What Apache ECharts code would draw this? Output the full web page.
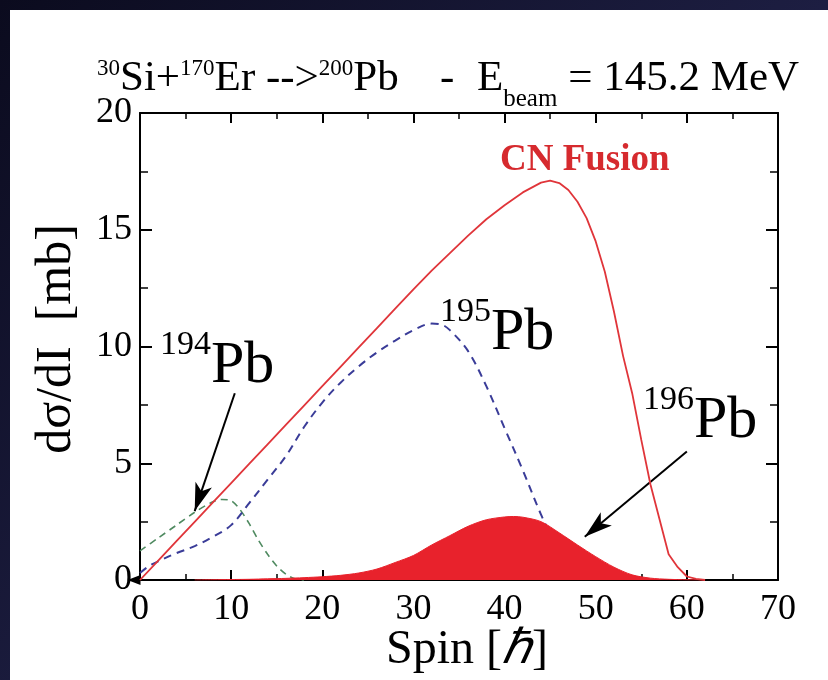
<!DOCTYPE html>
<html><head><meta charset="utf-8">
<script src="https://cdn.jsdelivr.net/npm/echarts@6/dist/echarts.min.js"></script>
<style>
html,body{margin:0;padding:0;width:828px;height:680px;overflow:hidden;background:linear-gradient(135deg,#0b0b1e 0%,#1d1e42 55%,#2a2c5c 100%);}
#c{position:absolute;left:10px;top:10px;width:818px;height:670px;background:#fff;}
</style>
</head><body><div id="c"></div>
<script>
// CN fusion (red solid)
const spinCN = [0,2,4,6,8,10,12,14,16,18,20,22,24,26,28,30,32,34,36,38,40,42,44,45,46,47,48,49,50,51,52,53,54,55,56,57,58,59,60,61,62];
const valCN  = [0,0.83,1.66,2.49,3.32,4.15,4.98,5.81,6.64,7.47,8.30,9.13,9.96,10.79,11.62,12.45,13.25,14.0,14.75,15.45,16.05,16.6,17.02,17.1,17.0,16.7,16.2,15.5,14.5,13.2,11.5,9.6,8.0,6.0,4.1,2.6,1.1,0.55,0.15,0.05,0];
// 195Pb (blue dashed)
const spin195 = [0,1,2,4,6,8,10,12,14,16,18,20,22,24,26,28,30,32,33,34,36,38,40,42,44,45,46,47,48,50];
const val195  = [0.3,0.6,0.8,1.15,1.45,1.85,2.35,3.3,4.3,5.3,6.55,7.6,8.45,9.15,9.75,10.25,10.7,10.98,10.95,10.7,9.8,8.3,6.5,4.7,2.8,2.0,1.3,0.7,0.3,0.05];
// 194Pb (green dashed)
const spin194 = [0,2,4,6,8,9,10,11,12,13,14,15,16,17,18];
const val194  = [1.25,1.8,2.35,2.9,3.35,3.45,3.4,3.0,2.4,1.7,1.1,0.6,0.25,0.05,0];
// 196Pb (red filled)
const spin196 = [6,8,10,12,14,16,18,20,22,24,26,28,30,32,34,36,38,40,41,42,44,46,48,50,52,54,56,58,60,62];
const val196  = [0,0.01,0.02,0.03,0.05,0.07,0.1,0.14,0.2,0.3,0.47,0.75,1.05,1.5,1.9,2.3,2.58,2.7,2.72,2.69,2.5,2.02,1.5,1.0,0.55,0.22,0.08,0.03,0.01,0];
// annotation arrows [from, to] in data coordinates
const arrow194 = [[10.4,8.0],[6.0,2.95]];
const arrow196 = [[60.0,5.5],[48.8,1.85]];
// axis ticks
const xTicks = [0,10,20,30,40,50,60,70];
const yTicks = [0,5,10,15,20];

const pairs = (xs, ys) => xs.map((x, i) => [x, ys[i]]);
const FONT = '"Liberation Serif","Times New Roman",serif';

const chart = echarts.init(document.getElementById('c'), null, {renderer:'canvas'});

const axisCommon = {
  type: 'value',
  axisLine: {show: true, onZero: false, lineStyle: {color: '#000', width: 2}},
  splitLine: {show: false},
  axisTick: {show: true, inside: true, length: 10, lineStyle: {color: '#000', width: 2}},
  minorTick: {show: true, splitNumber: 2, length: 6, lineStyle: {color: '#000', width: 1.5}}
};

const titleRich = {
  m:   {fontFamily: FONT, fontSize: 43, lineHeight: 44, verticalAlign: 'top', fill: '#000'},
  sup: {fontFamily: FONT, fontSize: 23, lineHeight: 20, verticalAlign: 'top', fill: '#000'},
  sub: {fontFamily: FONT, fontSize: 25, lineHeight: 55, verticalAlign: 'bottom', fill: '#000'}
};
const isoRich = {
  s: {fontFamily: FONT, fontSize: 34, lineHeight: 20, verticalAlign: 'top', fill: '#000'},
  m: {fontFamily: FONT, fontSize: 60, lineHeight: 68, verticalAlign: 'bottom', fill: '#000'}
};

const option = {
  animation: false,
  backgroundColor: '#fff',
  grid: {left: 130, right: 50, top: 103, bottom: 100, containLabel: false},
  xAxis: [
    Object.assign({}, axisCommon, {
      min: 0, max: 70, interval: 10, position: 'bottom',
      axisLabel: {show: true, margin: 12, fontFamily: FONT, fontSize: 36, color: '#000',
        formatter: v => xTicks.includes(v) ? String(v) : ''}
    }),
    Object.assign({}, axisCommon, {
      min: 0, max: 70, interval: 10, position: 'top', axisLabel: {show: false}
    })
  ],
  yAxis: [
    Object.assign({}, axisCommon, {
      min: 0, max: 20, interval: 5, position: 'left',
      axisTick: {show: true, inside: true, length: 12, lineStyle: {color: '#000', width: 2}},
      minorTick: {show: true, splitNumber: 2, length: 8, lineStyle: {color: '#000', width: 1.5}},
      axisLabel: {show: true, margin: 8, fontFamily: FONT, fontSize: 36, color: '#000',
        formatter: v => yTicks.includes(v) ? String(v) : ''}
    }),
    Object.assign({}, axisCommon, {
      min: 0, max: 20, interval: 5, position: 'right',
      axisTick: {show: true, inside: true, length: 12, lineStyle: {color: '#000', width: 2}},
      minorTick: {show: true, splitNumber: 2, length: 8, lineStyle: {color: '#000', width: 1.5}},
      axisLabel: {show: false}
    })
  ],
  series: [
    {
      name: '194Pb', type: 'line', data: pairs(spin194, val194), showSymbol: false, smooth: 0.3, z: 3,
      lineStyle: {color: '#4f8a60', width: 1.6, type: [7, 5]},
      markLine: {
        silent: true, symbol: ['none', 'arrow'], symbolSize: [13, 28],
        lineStyle: {color: '#000', width: 2, type: 'solid'}, label: {show: false},
        data: [
          [{coord: arrow194[0]}, {coord: arrow194[1]}],
          [{coord: arrow196[0]}, {coord: arrow196[1]}]
        ]
      },
      markPoint: {
        silent: true, symbol: 'triangle', symbolRotate: 90, symbolSize: [10, 13], symbolOffset: [-6, 0],
        itemStyle: {color: '#000'}, label: {show: false},
        data: [{coord: [0, 0]}]
      }
    },
    {
      name: '195Pb', type: 'line', data: pairs(spin195, val195), showSymbol: false, smooth: 0.35, z: 3,
      lineStyle: {color: '#3a3c98', width: 2, type: [8, 6]}
    },
    {
      name: '196Pb', type: 'line', data: pairs(spin196, val196), showSymbol: false, smooth: 0.3, z: 4,
      lineStyle: {color: '#e8222c', width: 1},
      areaStyle: {color: '#e8222c', opacity: 1}
    },
    {
      name: 'CN Fusion', type: 'line', data: pairs(spinCN, valCN), showSymbol: false, smooth: false, z: 5,
      lineStyle: {color: '#e0353a', width: 1.8}
    }
  ],
  graphic: [
    {type: 'text', x: 87, y: 47, z: 10, style: {
      text: '{sup|30}{m|Si+}{sup|170}{m|Er -->}{sup|200}{m|Pb}', verticalAlign: 'top', rich: titleRich}},
    {type: 'text', x: 430, y: 47, z: 10, style: {
      text: '{m|-}', verticalAlign: 'top', rich: titleRich}},
    {type: 'text', x: 467, y: 47, z: 10, style: {
      text: '{m|E}{sub|beam}{m| = 145.2 MeV}', verticalAlign: 'top', rich: titleRich}},
    {type: 'text', left: 490, top: 132, z: 10, style: {text: 'CN Fusion', fill: '#d62a2e', font: 'bold 37px ' + FONT}},
    {type: 'text', x: 150, y: 318, z: 10, style: {text: '{s|194}{m|Pb}', verticalAlign: 'top', rich: isoRich}},
    {type: 'text', x: 430, y: 285, z: 10, style: {text: '{s|195}{m|Pb}', verticalAlign: 'top', rich: isoRich}},
    {type: 'text', x: 633, y: 373, z: 10, style: {text: '{s|196}{m|Pb}', verticalAlign: 'top', rich: isoRich}},
    {type: 'text', x: 47, y: 329, rotation: Math.PI / 2, z: 10, style: {
      text: 'dσ/dI  [mb]', align: 'center', verticalAlign: 'middle', fill: '#000', font: '50px ' + FONT}},
    {type: 'text', x: 457, y: 640, z: 10, style: {
      text: '{n|Spin [}{h|ℏ}{n|]}', align: 'center', verticalAlign: 'middle',
      rich: {n: {fontFamily: FONT, fontSize: 48, fill: '#000'},
             h: {fontFamily: FONT, fontSize: 48, fontStyle: 'italic', fill: '#000'}}}}
  ]
};
chart.setOption(option);
</script>
</body></html>
